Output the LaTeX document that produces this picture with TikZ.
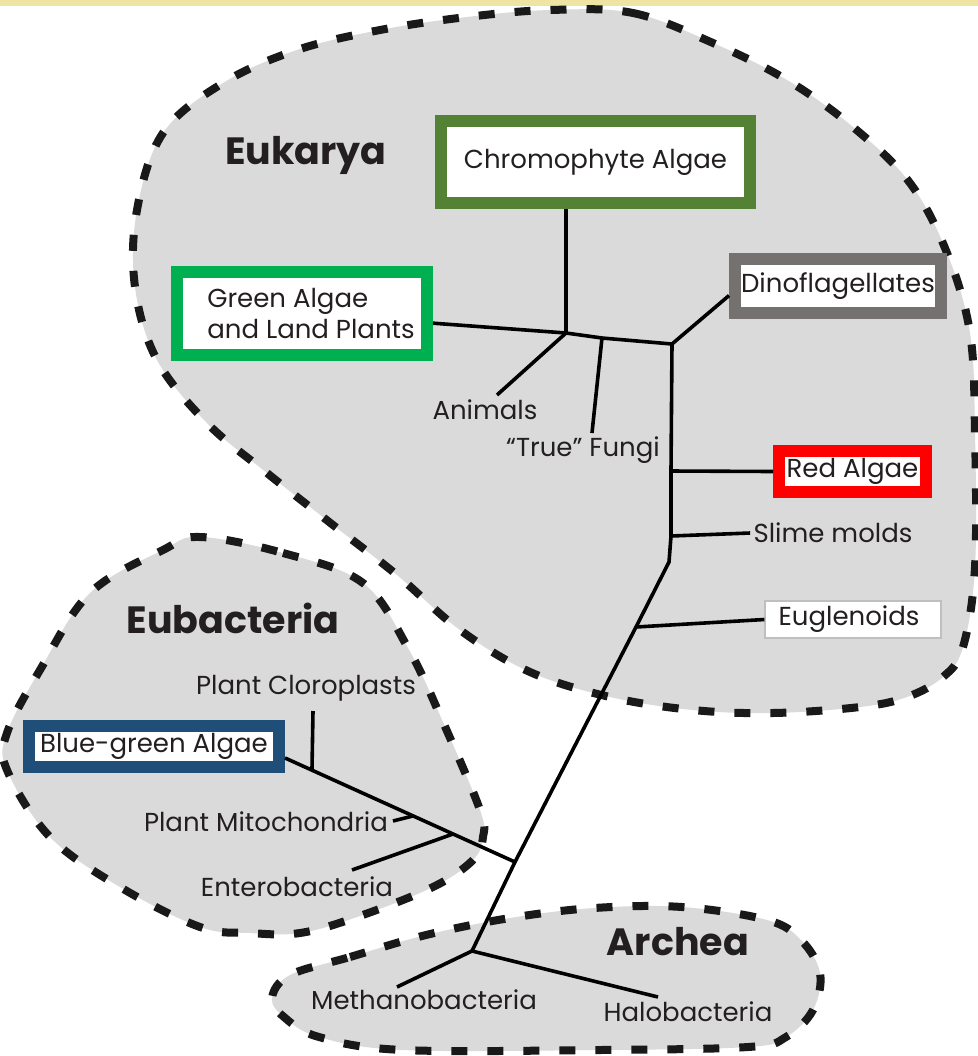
\documentclass[tikz,border=0pt]{standalone}
\usepackage{fontspec}
\setmainfont{Poppins}
\definecolor{blobgray}{RGB}{218,218,218}
\definecolor{bandyellow}{RGB}{238,228,164}
\definecolor{olivegreen}{RGB}{84,130,53}
\definecolor{leafgreen}{RGB}{0,176,80}
\definecolor{framegray}{RGB}{118,113,113}
\definecolor{navyblue}{RGB}{31,78,121}
\definecolor{inkgray}{RGB}{35,31,32}

\begin{document}
\begin{tikzpicture}[x=0.5pt, y=-0.5pt,
                    domain blob/.style={fill=blobgray, draw=black!90, line width=4pt,
                                  dash pattern=on 8pt off 10pt},
                    taxon box/.style={draw=#1, fill=white, line width=6pt, inner sep=0pt,
                                      text=inkgray, font=\fontsize{13}{15.5}\selectfont},
                    taxon/.style={text=inkgray, inner sep=1.5pt, font=\fontsize{13}{15}\selectfont},
                    domain name/.style={text=inkgray, font=\fontsize{19}{21}\selectfont\bfseries},
                    branch/.style={draw=black, line width=1.8pt}]

  % page and band
  \useasboundingbox (0,0) rectangle (978,1056);
  \fill[white] (0,0) rectangle (978,1056);
  \fill[bandyellow] (0,0) rectangle (978,6);

  % the three domains
  \draw[domain blob] plot[smooth cycle, tension=0.6] coordinates {
    (550,10) (633,13) (713,43) (787,80) (853,127) (910,183) (947,253) (970,333)
    (975,433) (975,567) (963,647) (943,677) (907,697) (860,707) (773,713) (693,710)
    (610,697) (530,672) (460,630) (397,575) (333,525) (267,473) (207,423) (157,360)
    (135,287) (137,210) (163,133) (223,83) (297,50) (380,30) (467,17)};
  \draw[domain blob] plot[smooth cycle, tension=0.6] coordinates {
    (200,537) (283,553) (363,583) (408,648) (443,722) (480,810) (483,837) (473,860)
    (433,887) (357,917) (300,933) (250,933) (200,927) (120,887) (50,837) (7,770)
    (7,733) (40,670) (90,593) (163,550)};
  \draw[domain blob] plot[smooth cycle, tension=0.6] coordinates {
    (290,975) (350,957) (426,935) (510,918) (594,908) (682,907) (767,920) (801,940)
    (820,973) (813,1010) (786,1037) (748,1047) (600,1050) (403,1050) (319,1037)
    (284,1017) (272,998)};

  \node[domain name] (eukarya) at (306,155) {Eukarya};
  \node[domain name] (eubact)  at (233,618) {Eubacteria};
  \node[domain name] (archea)  at (678,942) {Archea};

  % boxed taxa
  \node[taxon box=olivegreen, minimum width=154.5pt, minimum height=41pt] (chromo) at (595.5,162) {Chromophyte Algae};
  \node[taxon box=leafgreen, minimum width=125pt, minimum height=41.5pt, align=left] (green) at (302,313.5) {\hspace*{9pt}Green Algae\\\hspace*{9pt}and Land Plants};
  \node[taxon box=framegray, minimum width=103pt, minimum height=27pt] (dino) at (838,286) {Dinoflagellates};
  \node[taxon box=red, minimum width=73.5pt, minimum height=20.5pt] (red) at (852.5,471.5) {Red Algae};
  \node[taxon box=gray!50, line width=0.6pt, minimum width=88pt, minimum height=18.5pt] (eugl) at (853,619.5) {Euglenoids\hspace*{4pt}};
  \node[taxon box=navyblue, minimum width=125pt, minimum height=20.5pt] (bluegreen) at (154,746.5) {Blue-green Algae};

  % plain taxa
  \node[taxon] (animals) at (485,410) {Animals};
  \node[taxon] (fungi)   at (583,450) {“True” Fungi};
  \node[taxon] (slime)   at (833,533) {Slime molds};
  \node[taxon] (clorop)  at (306,688) {Plant Cloroplasts};
  \node[taxon] (mito)    at (266,822) {Plant Mitochondria};
  \node[taxon] (entero)  at (297,887) {Enterobacteria};
  \node[taxon] (methano) at (424,1000) {Methanobacteria};
  \node[taxon] (halo)    at (688,1012) {Halobacteria};

  % forks of the tree
  \coordinate (j1) at (566,333);
  \coordinate (j2) at (602,338);
  \coordinate (j3) at (672,344);
  \coordinate (j4) at (671,471);
  \coordinate (j5) at (671,536);
  \coordinate (j6) at (669,562);
  \coordinate (j7) at (636,627);
  \coordinate (j8) at (515,862);
  \coordinate (root) at (472,951);
  \coordinate (jc) at (312,769);
  \coordinate (jm) at (413,816);
  \coordinate (je) at (453,834);
  % free ends
  \coordinate (animals end) at (497,395);
  \coordinate (fungi end) at (592,433);
  \coordinate (clorop end) at (313,711);
  \coordinate (mito end) at (393,821);
  \coordinate (entero end) at (352,870);
  \coordinate (methano end) at (397,987);
  \coordinate (halo end) at (658,997);

  \draw[branch] (green) -- (j1) -- (j2) -- (j3) -- (j4) -- (j5) -- (j6) -- (j7) -- (j8) -- (root);
  \path[branch]
    (j1) edge (j1 |- chromo.south)
         edge (animals end)
    (j2) edge (fungi end)
    (j3) edge (dino.185)
    (j4) edge (red.west)
    (j5) edge (slime.west)
    (j7) edge (eugl.west)
    (j8) edge (bluegreen.-5)
    (jc) edge (clorop end)
    (jm) edge (mito end)
    (je) edge (entero end)
    (root) edge (methano end)
           edge (halo end);
\end{tikzpicture}
\end{document}
